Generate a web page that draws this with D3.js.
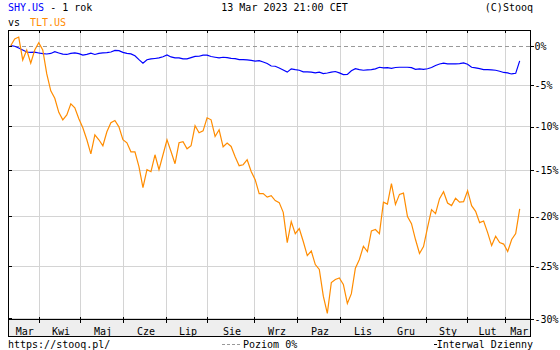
<!DOCTYPE html>
<html>
<head>
<meta charset="utf-8">
<script src="https://cdn.jsdelivr.net/npm/d3@7"></script>
<style>
    body { margin: 0; background: #fff; }
    svg { display: block; font-family: "DejaVu Sans Mono", monospace; font-size: 10px; }
</style>
</head>
<body>
<svg id="chart" width="560" height="350"></svg>
<script>
// month labels and trading days per month (Mar 2022 .. Mar 2023)
const months = ["Mar", "Kwi", "Maj", "Cze", "Lip", "Sie", "Wrz", "Paz", "Lis", "Gru", "Sty", "Lut", "Mar"];
const monthDays = [14, 20, 21, 21, 20, 23, 21, 21, 21, 21, 20, 19, 8];
const yTicks = [0, -5, -10, -15, -20, -25, -30];

// change vs start, in %, sampled about every 2 sessions
const shy = [
    0, -0.07, -0.30, -0.56, -0.82, -0.88, -0.85, -0.95, -1.04, -1.08,
    -1.01, -0.79, -0.95, -1.10, -1.14, -1.01, -0.94, -1.04, -1.23, -1.12,
    -0.97, -1.14, -0.99, -0.94, -0.91, -0.82, -0.62, -0.65, -0.87, -0.99,
    -1.06, -1.31, -1.81, -2.27, -1.82, -1.72, -1.66, -1.59, -1.44, -1.21,
    -1.46, -1.57, -1.59, -1.70, -1.71, -1.55, -1.39, -1.37, -1.23, -1.22,
    -1.40, -1.50, -1.59, -1.50, -1.54, -1.64, -1.68, -1.81, -1.81, -1.85,
    -1.91, -2.00, -1.94, -2.11, -2.30, -2.62, -2.65, -2.87, -3.12, -3.40,
    -2.98, -3.09, -3.16, -3.37, -3.36, -3.41, -3.50, -3.41, -3.59, -3.51,
    -3.40, -3.32, -3.50, -3.72, -3.68, -3.22, -2.96, -3.08, -3.16, -3.12,
    -3.08, -2.98, -2.78, -2.86, -2.84, -2.91, -2.81, -2.78, -2.78, -2.78,
    -2.83, -3.04, -2.99, -3.06, -2.97, -2.81, -2.55, -2.36, -2.25, -2.34,
    -2.34, -2.35, -2.32, -2.23, -2.40, -2.78, -2.87, -2.96, -3.08, -3.08,
    -3.12, -3.16, -3.29, -3.44, -3.50, -3.63, -3.55, -1.96
];
const tlt = [
    0, 0.88, 1.14, -1.85, -0.56, -2.27, -0.56, 0.39, -0.56, -3.62,
    -5.74, -6.64, -8.35, -9.24, -8.65, -7.33, -7.81, -9.12, -10.18, -11.58,
    -13.19, -11.00, -11.58, -12.27, -10.65, -9.59, -9.32, -10.07, -11.58, -11.93,
    -12.96, -12.96, -14.64, -16.95, -14.98, -15.20, -13.30, -14.98, -13.30, -11.58,
    -12.92, -14.31, -11.93, -11.81, -12.62, -12.27, -9.95, -10.77, -10.54, -9.00,
    -9.24, -11.20, -10.42, -12.39, -11.97, -12.35, -13.52, -14.53, -14.42, -13.86,
    -15.17, -16.08, -17.60, -17.60, -17.98, -17.82, -18.35, -18.56, -19.59, -22.71,
    -20.56, -21.80, -21.28, -22.60, -24.01, -23.56, -24.90, -25.38, -27.94, -29.55,
    -26.64, -26.35, -26.21, -26.83, -28.63, -27.71, -25.26, -24.40, -23.08, -23.61,
    -21.53, -21.38, -21.80, -18.51, -18.72, -16.52, -18.75, -17.68, -17.54, -20.04,
    -20.77, -22.40, -23.81, -23.11, -21.18, -19.30, -19.72, -18.14, -17.39, -18.60,
    -18.88, -18.10, -18.51, -18.46, -17.28, -18.88, -19.48, -20.67, -20.49, -21.69,
    -23.01, -22.07, -22.71, -22.86, -23.61, -22.40, -21.80, -19.23
];

const plot = { left: 8, right: 531, top: 30, bottom: 320, band: 337 };
const blue = "#0000ff", orange = "#ff8c00", grid = "#d4d4d4";

const svg = d3.select("#chart");
const totalDays = d3.sum(monthDays);

// x by session number, y log scale on price ratio (as stooq does)
const xDay = d3.scaleLinear().domain([0, totalDays - 1]).range([10.7, 519.7]);
const yScale = d3.scaleLog().domain([1, 0.7]).range([45.7, 318.3]);
const y = v => yScale(1 + v / 100);
const xSample = (i, n) => xDay(i * (totalDays - 1) / (n - 1));

const monthStart = d3.cumsum([0, ...monthDays.slice(0, -1)]);
const dividers = monthStart.slice(1).map(d => Math.round(xDay(d)) + 0.5);
const px = v => Math.round(v) + 0.5;

// gridlines
const gridG = svg.append("g").attr("shape-rendering", "crispEdges");
gridG.selectAll("line.h")
    .data(yTicks.filter(t => t !== 0))
    .join("line")
    .attr("x1", plot.left).attr("x2", plot.right)
    .attr("y1", t => px(y(t))).attr("y2", t => px(y(t)))
    .attr("stroke", grid);
gridG.selectAll("line.v")
    .data(dividers)
    .join("line")
    .attr("x1", d => d).attr("x2", d => d)
    .attr("y1", plot.top).attr("y2", plot.bottom)
    .attr("stroke", grid);

// 0% level
svg.append("line")
    .attr("x1", plot.left).attr("x2", plot.right)
    .attr("y1", px(y(0))).attr("y2", px(y(0)))
    .attr("stroke", "#999").attr("stroke-dasharray", "4,3")
    .attr("shape-rendering", "crispEdges");

// series
const line = d3.line()
    .x((d, i, arr) => xSample(i, arr.length))
    .y(d => y(d));

svg.append("path").datum(shy)
    .attr("d", line)
    .attr("fill", "none").attr("stroke", blue).attr("stroke-width", 1.2);
svg.append("path").datum(tlt)
    .attr("d", line)
    .attr("fill", "none").attr("stroke", orange).attr("stroke-width", 1.2);

// frame + month band
const frame = svg.append("g").attr("shape-rendering", "crispEdges");
frame.append("rect")
    .attr("x", plot.left).attr("y", plot.bottom)
    .attr("width", plot.right - plot.left).attr("height", plot.band - plot.bottom)
    .attr("fill", "#eeeeee");
frame.append("rect")
    .attr("x", plot.left + 0.5).attr("y", plot.top + 0.5)
    .attr("width", plot.right - plot.left - 1).attr("height", plot.band - plot.top - 1)
    .attr("fill", "none").attr("stroke", "#000");
frame.append("line")
    .attr("x1", plot.left).attr("x2", plot.right)
    .attr("y1", plot.bottom - 0.5).attr("y2", plot.bottom - 0.5)
    .attr("stroke", "#000");

// month ticks top and bottom
frame.selectAll("line.mt")
    .data(dividers)
    .join("line")
    .attr("x1", d => d).attr("x2", d => d)
    .attr("y1", plot.top).attr("y2", plot.top + 3)
    .attr("stroke", "#000");
frame.selectAll("line.mb")
    .data(dividers)
    .join("line")
    .attr("x1", d => d).attr("x2", d => d)
    .attr("y1", plot.bottom - 3).attr("y2", plot.bottom + 3)
    .attr("stroke", "#000");

// left ticks
frame.selectAll("line.lt")
    .data(yTicks)
    .join("line")
    .attr("x1", plot.left).attr("x2", plot.left + 4)
    .attr("y1", t => px(y(t))).attr("y2", t => px(y(t)))
    .attr("stroke", "#000");

// right axis
const yAxis = d3.axisRight(yScale)
    .tickValues(yTicks.map(t => 1 + t / 100))
    .tickSize(3)
    .tickPadding(1)
    .tickFormat(r => Math.round((r - 1) * 100) + "%");
const axisG = svg.append("g")
    .attr("transform", `translate(${plot.right - 0.5}, 0.5)`)
    .call(yAxis);
axisG.select(".domain").remove();
axisG.selectAll("text")
    .attr("font-family", "DejaVu Sans Mono").attr("font-size", 10).attr("fill", "#000");
axisG.selectAll("line").attr("shape-rendering", "crispEdges");

// month labels centred between dividers
const bounds = [plot.left, ...dividers, plot.right];
svg.append("g").selectAll("text")
    .data(months)
    .join("text")
    .attr("x", (m, i) => (bounds[i] + bounds[i + 1]) / 2 + 1)
    .attr("y", 334.5)
    .attr("text-anchor", "middle")
    .text(m => m);

// header
const head = svg.append("g");
const t1 = head.append("text").attr("x", 8).attr("y", 10.5);
t1.append("tspan").attr("fill", blue).text("SHY.US");
t1.append("tspan").attr("fill", "#000").text(" - 1 rok");
head.append("text").attr("x", 284.5).attr("y", 10.5).attr("text-anchor", "middle")
    .text("13 Mar 2023 21:00 CET");
head.append("text").attr("x", 533).attr("y", 10.5).attr("text-anchor", "end")
    .text("(C)Stooq");
const t2 = head.append("text").attr("x", 8).attr("y", 25.5);
t2.append("tspan").text("vs");
t2.append("tspan").attr("x", 30).attr("fill", orange).text("TLT.US");

// footer
const foot = svg.append("g");
foot.append("text").attr("x", 8).attr("y", 347.5).text("https://stooq.pl/");
foot.append("line")
    .attr("x1", 222).attr("x2", 240).attr("y1", 344.5).attr("y2", 344.5)
    .attr("stroke", "#999").attr("stroke-dasharray", "3,2")
    .attr("shape-rendering", "crispEdges");
foot.append("text").attr("x", 243).attr("y", 347.5).text("Poziom 0%");
foot.append("line")
    .attr("x1", 434).attr("x2", 437).attr("y1", 344.5).attr("y2", 344.5)
    .attr("stroke", "#000").attr("shape-rendering", "crispEdges");
foot.append("text").attr("x", 533).attr("y", 347.5).attr("text-anchor", "end")
    .text("Interwal Dzienny");
</script>
</body>
</html>
